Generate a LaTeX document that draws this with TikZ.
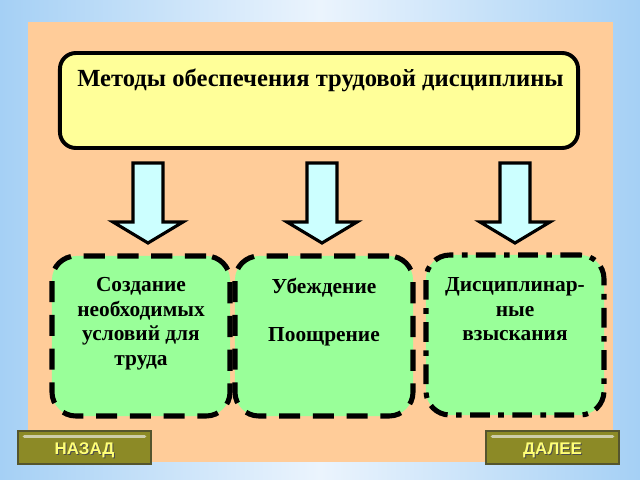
\documentclass[tikz,border=0pt]{standalone}
\usepackage{fontspec}
\setmainfont{Liberation Serif}
\newfontfamily\btnfont{Liberation Sans}
\usepackage{tikz}
\usetikzlibrary{calc}
\usetikzlibrary{positioning}

\definecolor{peach}{RGB}{255,204,153}
\definecolor{paleyellow}{RGB}{255,255,153}
\definecolor{palegreen}{RGB}{153,255,153}
\definecolor{palecyan}{RGB}{204,255,255}
\definecolor{skyblue}{RGB}{165,208,245}
\definecolor{skypale}{RGB}{235,244,253}
\definecolor{btnolive}{RGB}{140,138,38}
\definecolor{btnedge}{RGB}{85,85,45}
\definecolor{btnshine}{RGB}{205,205,170}
\definecolor{btntext}{RGB}{255,255,120}

\newcommand{\blockarrow}[1]{%
  \draw[line width=2.2pt, fill=palecyan, line join=miter]
    (#1-15,163) -- (#1+15,163) -- (#1+15,222) -- (#1+35,222) -- (#1,243)
    -- (#1-35,222) -- (#1-15,222) -- cycle;}

\begin{document}
\begin{tikzpicture}[x=0.025cm, y=-0.025cm,
    boxfont/.style={font=\fontsize{15.2}{17.4}\selectfont\bfseries},
    greenbox/.style={draw, fill=palegreen, line width=3.6pt, rounded corners=0.6cm,
      minimum width=4.45cm, minimum height=4cm},
    boxtext/.style={boxfont, align=center, inner sep=0pt, anchor=north},
    button/.style={draw=btnedge, fill=btnolive, line width=1pt,
      minimum width=3.325cm, minimum height=0.825cm},
    btnlabel/.style={font=\btnfont\fontsize{12}{12}\selectfont\bfseries, inner sep=0pt}]
  \useasboundingbox (0,0) rectangle (640,480);
  \shade[left color=skyblue, right color=skyblue, middle color=skypale] (0,0) rectangle (640,480);
  \fill[peach] (28,22) rectangle (613,462);

  % main box
  \node[draw, fill=paleyellow, line width=2.8pt, rounded corners=0.4cm,
    minimum width=12.95cm, minimum height=2.375cm] (methods) at (319,100.5) {};
  \node[font=\fontsize{17.5}{20}\selectfont\bfseries, anchor=base west, inner sep=0pt]
    (title) at (77,87) {Методы обеспечения трудовой дисциплины};

  \blockarrow{148}
  \blockarrow{322}
  \blockarrow{515}

  % methods
  \node[greenbox, dash pattern=on 15pt off 9pt] (box1) at (141,336) {};
  \node[greenbox, dash pattern=on 15pt off 9pt] (box2) at (324,336) {};
  \node[greenbox, dash pattern=on 14pt off 6pt on 4pt off 6pt] (box3) at (515,335) {};

  \node[boxtext, below=0.6cm of box1.north] (text1)
    {Создание\\необходимых\\условий для\\труда};
  \node[boxtext, below=0.6cm of box2.north] (text2)
    {Убеждение\\[17.4pt]Поощрение};
  \node[boxtext, below=0.62cm of box3.north] (text3)
    {Дисциплинар-\\ные\\взыскания};

  % buttons
  \node[button] (back) at (84.5,447.5) {};
  \node[button] (next) at (552.5,447.5) {};
  \draw[btnshine, line width=2.2pt, line cap=round]
    ($(back.north west)+(7,6)$) -- ($(back.north east)+(-7,6)$);
  \draw[btnshine, line width=2.2pt, line cap=round]
    ($(next.north west)+(7,6)$) -- ($(next.north east)+(-7,6)$);
  \node[btnlabel, text=black!70] at ($(back.center)+(1,3.5)$) {НАЗАД};
  \node[btnlabel, text=btntext] (backtext) at ($(back.center)+(0,2.5)$) {НАЗАД};
  \node[btnlabel, text=black!70] at ($(next.center)+(1,3.5)$) {ДАЛЕЕ};
  \node[btnlabel, text=btntext] (nexttext) at ($(next.center)+(0,2.5)$) {ДАЛЕЕ};
\end{tikzpicture}
\end{document}
